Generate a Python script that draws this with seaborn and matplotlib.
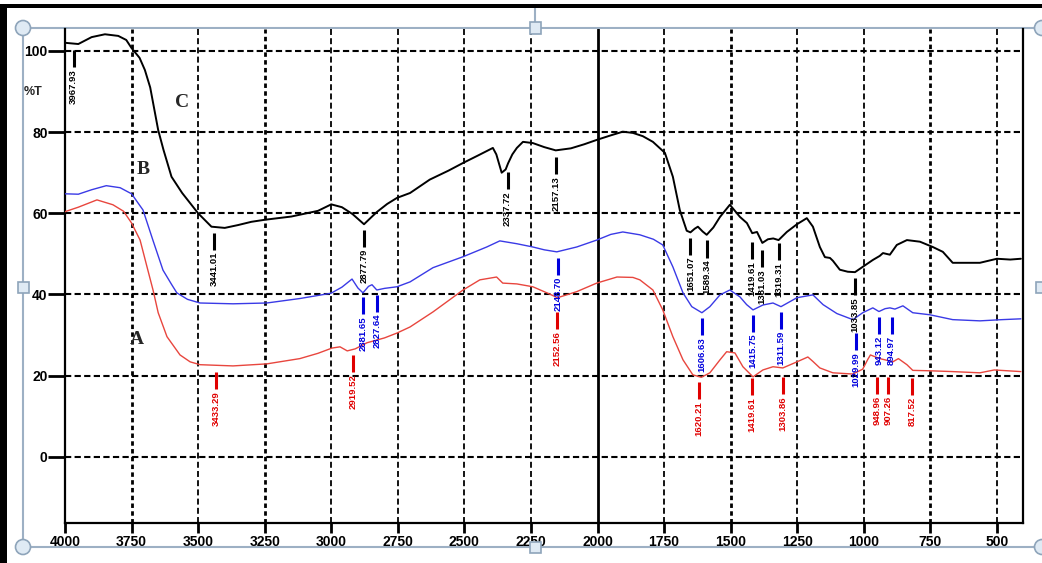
import numpy as np
import pandas as pd
import seaborn as sns
import matplotlib.pyplot as plt
from matplotlib.patches import Rectangle, Ellipse
from matplotlib.lines import Line2D

# ---- spectrum C (black) ----
wn_C = [4000, 3950, 3900, 3850, 3800, 3770, 3750, 3720, 3700, 3680, 3650, 3630,
        3600, 3560, 3500, 3450, 3400, 3350, 3300, 3250, 3150, 3050, 3000, 2960,
        2920, 2877, 2850, 2829, 2790, 2753, 2704, 2630, 2560, 2505, 2450, 2393,
        2380, 2360, 2345, 2336, 2320, 2303, 2280, 2243, 2200, 2157, 2100, 2050,
        2002, 1950, 1905, 1867, 1830, 1792, 1747, 1717, 1691, 1665, 1651, 1635,
        1623, 1605, 1590, 1565, 1540, 1503, 1465, 1439, 1419, 1401, 1381, 1360,
        1340, 1320, 1289, 1251, 1214, 1191, 1165, 1146, 1127, 1116, 1090, 1060,
        1033, 1004, 966, 940, 928, 902, 876, 838, 789, 741, 703, 666, 613, 564,
        500, 450, 410]
T_C = [102.0, 101.7, 103.4, 104.1, 103.7, 102.7, 100.7, 98.3, 95.3, 91.0, 80.5, 75.6,
       69.0, 65.0, 60.0, 56.7, 56.4, 57.1, 57.9, 58.4, 59.2, 60.6, 62.2, 61.5,
       59.8, 57.3, 59.0, 60.3, 62.3, 63.8, 65.0, 68.3, 70.5, 72.4, 74.2, 76.1,
       74.5, 70.0, 70.8, 72.3, 74.5, 76.1, 77.6, 77.3, 76.3, 75.5, 76.0, 77.0,
       78.1, 79.2, 80.1, 79.8, 79.0, 77.6, 74.9, 69.0, 60.8, 55.7, 55.3, 56.2,
       56.7, 55.5, 54.7, 56.5, 59.1, 62.1, 59.1, 57.6, 55.1, 55.4, 52.7, 53.6,
       53.8, 53.4, 55.4, 57.3, 58.8, 56.7, 51.7, 49.2, 49.0, 48.3, 46.1, 45.6,
       45.5, 46.8, 48.5, 49.5, 50.2, 49.8, 52.2, 53.4, 53.0, 51.7, 50.5, 47.8, 47.8, 47.8,
       48.8, 48.6, 48.8]

# ---- spectrum B (blue) ----
wn_B = [4000, 3950, 3900, 3845, 3793, 3750, 3707, 3670, 3632, 3600, 3580, 3540,
        3493, 3369, 3242, 3118, 3001, 2960, 2922, 2900, 2881, 2860, 2847, 2829,
        2800, 2753, 2704, 2618, 2505, 2416, 2367, 2303, 2243, 2200, 2153, 2078,
        2003, 1950, 1905, 1841, 1790, 1755, 1717, 1679, 1646, 1608, 1578, 1540,
        1503, 1465, 1440, 1416, 1379, 1341, 1311, 1251, 1191, 1153, 1101, 1041,
        1004, 966, 943, 920, 902, 883, 853, 816, 752, 666, 564, 480, 410]
T_B = [64.8, 64.7, 65.8, 66.8, 66.3, 64.8, 60.8, 53.4, 46.0, 42.5, 40.4, 38.8,
       37.9, 37.7, 37.9, 39.0, 40.3, 41.8, 43.8, 41.6, 40.4, 42.0, 42.4, 41.1,
       41.5, 41.9, 43.1, 46.6, 49.3, 51.7, 53.2, 52.5, 51.7, 51.0, 50.5, 51.7,
       53.4, 54.8, 55.4, 54.7, 53.6, 52.2, 46.8, 40.4, 37.0, 35.5, 37.0, 39.9,
       41.1, 39.4, 37.5, 36.2, 37.4, 37.9, 37.0, 39.2, 39.9, 37.5, 35.3, 33.8,
       35.5, 36.7, 35.8, 36.5, 36.7, 36.4, 37.2, 35.5, 35.0, 33.8, 33.5, 33.8, 34.0]

# ---- spectrum A (red) ----
wn_A = [4000, 3950, 3880, 3820, 3780, 3750, 3718, 3692, 3669, 3650, 3617, 3568,
        3530, 3493, 3369, 3242, 3118, 3050, 2997, 2967, 2940, 2910, 2866, 2800,
        2753, 2704, 2618, 2505, 2442, 2379, 2356, 2303, 2243, 2190, 2150, 2078,
        2003, 1927, 1867, 1841, 1792, 1755, 1717, 1679, 1642, 1610, 1578, 1540,
        1515, 1484, 1454, 1416, 1379, 1341, 1304, 1251, 1210, 1191, 1165, 1116,
        1041, 1004, 985, 975, 940, 914, 891, 870, 838, 816, 752, 666, 564, 510, 410]
T_A = [60.4, 61.5, 63.3, 62.1, 60.5, 57.6, 53.4, 46.8, 41.0, 35.5, 29.6, 25.1,
       23.4, 22.7, 22.4, 22.9, 24.2, 25.5, 26.8, 27.1, 26.1, 26.6, 28.1, 29.3,
       30.5, 32.0, 35.7, 41.1, 43.6, 44.3, 42.8, 42.6, 41.9, 40.4, 39.2, 40.7,
       42.8, 44.3, 44.2, 43.6, 41.1, 36.2, 29.6, 23.9, 20.2, 19.6, 20.7, 23.9,
       25.9, 25.6, 22.2, 19.7, 21.4, 22.2, 21.9, 23.4, 24.6, 23.5, 21.9, 20.7,
       20.4, 21.6, 24.0, 25.1, 24.2, 23.8, 23.4, 24.2, 22.7, 21.3, 21.2, 21.0, 20.7, 21.4, 21.0]

# ---- peak labels: wavenumber and top of the marker stem (%T) ----
peaks_C = [3967.93, 3441.01, 2877.79, 2337.72, 2157.13, 1651.07, 1589.34,
           1419.61, 1381.03, 1319.31, 1033.85]
top_C = [100.2, 55.2, 55.9, 70.2, 73.9, 54.0, 53.3, 53.0, 51.0, 52.6, 44.1]
peaks_B = [2881.65, 2827.64, 2148.70, 1606.63, 1415.75, 1311.59, 1029.99, 943.12, 894.97]
top_B = [39.4, 39.9, 49.0, 34.2, 35.0, 35.7, 30.5, 34.5, 34.5]
peaks_A = [3433.29, 2919.52, 2152.56, 1620.21, 1419.61, 1303.86, 948.96, 907.26, 817.52]
top_A = [20.9, 25.1, 35.7, 18.5, 19.5, 19.7, 19.7, 19.7, 19.5]

x_ticks = list(range(4000, 499, -250))
y_ticks = [0, 20, 40, 60, 80, 100]

sns.set_style('white')
plt.rcParams['font.family'] = ['Liberation Sans', 'DejaVu Sans']

W, H = 1042, 563
fig = plt.figure(figsize=(W / 100, H / 100), dpi=100)
ax = fig.add_axes([65 / W, 1 - 523 / H, (1023 - 65) / W, (523 - 29) / H])

spectra = pd.concat([
    pd.DataFrame({'wn': wn_A, 'T': T_A, 'sample': 'A'}),
    pd.DataFrame({'wn': wn_B, 'T': T_B, 'sample': 'B'}),
    pd.DataFrame({'wn': wn_C, 'T': T_C, 'sample': 'C'}),
])
styles = {'A': ('#e8463e', 1.0), 'B': ('#3a3ae6', 1.0), 'C': ('black', 1.4)}
for name, grp in spectra.groupby('sample'):
    col, lw = styles[name]
    sns.lineplot(data=grp, x='wn', y='T', color=col, linewidth=lw,
                 estimator=None, sort=False, ax=ax, zorder=3)

ax.set_xlim(4000, 402)
ax.set_ylim(-16.3, 105.4)
ax.set_xticks(x_ticks)
ax.set_yticks(y_ticks)
ax.set_xlabel('')
ax.set_ylabel('')

# grid
heavy = [3750, 3250, 1500, 750]
for x in x_ticks[1:]:
    if x == 2000:
        ax.axvline(x, color='black', lw=2.0, zorder=2)
    elif x in heavy:
        ax.axvline(x, color='black', lw=2.0, ls=(0, (1.6, 1.2)), zorder=2)
    else:
        ax.axvline(x, color='black', lw=1.3, ls=(0, (3.3, 1.8)), zorder=2)
for y in y_ticks:
    ax.axhline(y, color='black', lw=1.5, ls=(0, (3.0, 1.6)), zorder=2)

for s in ['left', 'bottom', 'right']:
    ax.spines[s].set_color('black')
    ax.spines[s].set_linewidth(1.6)
ax.spines['top'].set_visible(False)

ax.tick_params(axis='y', length=12, width=2, pad=0.5, labelsize=10, colors='black', left=True)
ax.tick_params(axis='x', length=7, width=2, pad=2, labelsize=10, colors='black', bottom=True)
for lab in ax.get_xticklabels() + ax.get_yticklabels():
    lab.set_fontweight('bold')


def mark_peaks(peaks, tops, color):
    for p, top in zip(peaks, tops):
        ax.plot([p, p], [top, top - 4.2], color=color, lw=2.2, solid_capstyle='butt', zorder=4)
        ax.text(p, top - 4.7, f'{p:.2f}', rotation=90, ha='center', va='top',
                fontsize=6.8, fontweight='bold', color=color, zorder=4)


mark_peaks(peaks_C, top_C, 'black')
mark_peaks(peaks_B, top_B, '#0000dd')
mark_peaks(peaks_A, top_A, '#e00000')

serif = dict(family=['Liberation Serif', 'DejaVu Serif'], fontweight='bold', fontsize=14)
ax.text(3561, 87.2, 'C', ha='center', va='center', **serif)
ax.text(3707, 70.7, 'B', ha='center', va='center', **serif)
ax.text(3730, 28.8, 'A', ha='center', va='center', **serif)

fx = lambda px: px / W
fy = lambda py: 1 - py / H
fig.text(fx(33), fy(92), '%T', ha='center', va='center', fontsize=9, fontweight='bold')

# picture frame and selection handles
frame_col = '#9db0c4'
for xs, ys in [([23, 23], [28, 547]), ([23, W], [28, 28]), ([23, W], [547, 547]), ([535, 535], [7, 23])]:
    fig.add_artist(Line2D([fx(v) for v in xs], [fy(v) for v in ys], color=frame_col, lw=1.5, zorder=0))
for px, py in [(23, 28), (23, 547), (W, 28), (W, 547)]:
    fig.add_artist(Ellipse((fx(px), fy(py)), 15 / W, 15 / H, transform=fig.transFigure,
                           fc='#dfeaf4', ec='#8ea4ba', lw=1.2, zorder=5))
for px, py in [(23, 287), (535, 28), (535, 547), (W - 1, 287)]:
    fig.add_artist(Rectangle((fx(px - 5.5), fy(py + 5.5)), 11 / W, 11 / H, transform=fig.transFigure,
                             fc='#dfeaf4', ec='#8ea4ba', lw=1.2, zorder=5))
fig.add_artist(Rectangle((0, fy(7.5)), 1, 4 / H, transform=fig.transFigure, fc='black', ec='none', zorder=6))
fig.add_artist(Rectangle((0, 0), 7 / W, fy(3.5), transform=fig.transFigure, fc='black', ec='none', zorder=6))

fig.savefig('out.png', dpi=100)
